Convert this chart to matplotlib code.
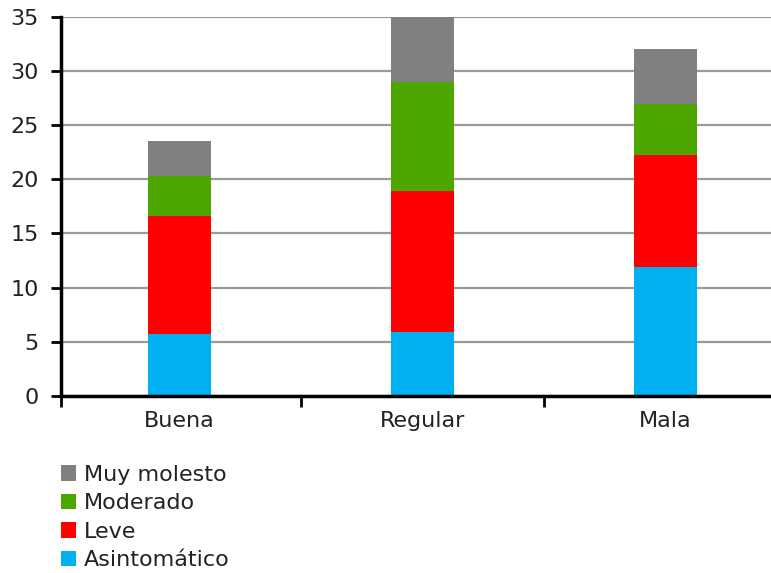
import matplotlib
matplotlib.use("Agg")
import matplotlib.pyplot as plt
import numpy as np

categories = ["Buena", "Regular", "Mala"]
series_names = ["Asintomático", "Leve", "Moderado", "Muy molesto"]
asintomatico = [5.7, 5.9, 11.9]
leve = [10.9, 13.0, 10.3]
moderado = [3.7, 10.1, 4.7]
muy_molesto = [3.2, 6.0, 5.1]
y_ticks = [0, 5, 10, 15, 20, 25, 30, 35]

colors = ["#00B0F0", "#FF0000", "#4EA600", "#808080"]

W, H = 771, 573
fig = plt.figure(figsize=(W / 100, H / 100), dpi=100)
ax = fig.add_axes([61 / W, (H - 396) / H, (790 - 61) / W, (396 - 16.7) / H])

x = np.arange(len(categories))
bottom = np.zeros(len(categories))
handles = []
for name, vals, col in zip(series_names, [asintomatico, leve, moderado, muy_molesto], colors):
    b = ax.bar(x, vals, width=0.262, bottom=bottom, color=col, label=name, zorder=3)
    handles.append(b)
    bottom += np.array(vals)

ax.set_xlim(-0.488, 2.512)
ax.set_ylim(0, 35)
ax.set_yticks(y_ticks)
ax.yaxis.grid(True, color="#9a9a9a", linewidth=1.6, zorder=0)
ax.set_axisbelow(True)

for s in ["top", "right"]:
    ax.spines[s].set_visible(False)
for s in ["left", "bottom"]:
    ax.spines[s].set_color("black")
    ax.spines[s].set_linewidth(2.5)
    ax.spines[s].set_zorder(4)

# Category labels without ticks; boundary ticks between categories
ax.set_xticks(x)
ax.set_xticklabels(categories)
ax.tick_params(axis="x", which="major", length=0, pad=11, labelsize=16, labelcolor="#222222")
ax.set_xticks([-0.488, 0.5, 1.5], minor=True)
ax.tick_params(axis="x", which="minor", length=8, width=2, color="black", direction="out")
ax.tick_params(axis="y", length=7, width=2, color="black", direction="out", pad=9,
               labelsize=16, labelcolor="#222222")

leg = fig.legend(handles[::-1], series_names[::-1], loc="upper left",
                 bbox_to_anchor=(52 / W, 1 - 456 / H), frameon=False,
                 fontsize=16, handlelength=0.68, handleheight=0.68,
                 handletextpad=0.35, labelspacing=0.38, borderaxespad=0)
for t in leg.get_texts():
    t.set_color("#222222")

fig.savefig("out.png", dpi=100)
